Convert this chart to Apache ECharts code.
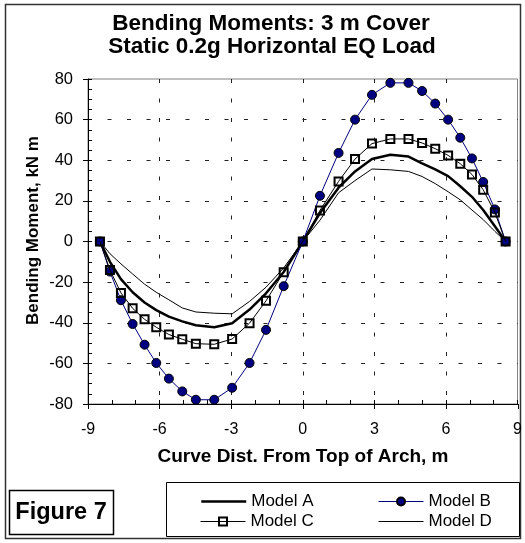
<!DOCTYPE html>
<html>
<head>
<meta charset="utf-8">
<script src="https://cdn.jsdelivr.net/npm/echarts@6/dist/echarts.min.js"></script>
<style>
html,body{margin:0;padding:0;background:#fff;}
#chart{width:525px;height:543px;}
</style>
</head>
<body>
<div id="chart"></div>
<script>
// ---- data ----
const titleLines = ['Bending Moments: 3 m Cover', 'Static 0.2g Horizontal EQ Load'];
const xAxisTitle = 'Curve Dist. From Top of Arch, m';
const yAxisTitle = 'Bending Moment, kN m';
const figureLabel = 'Figure 7';
const xTicks = [-9, -6, -3, 0, 3, 6, 9];
const yTicks = [-80, -60, -40, -20, 0, 20, 40, 60, 80];
const seriesNames = ['Model A', 'Model B', 'Model C', 'Model D'];
const xDist = [-8.5, -8.08, -7.62, -7.13, -6.63, -6.14, -5.61, -5.05, -4.48, -3.71, -2.96, -2.23, -1.54, -0.8, 0,
               0.72, 1.5, 2.19, 2.9, 3.67, 4.43, 5.0, 5.55, 6.09, 6.6, 7.09, 7.56, 8.05, 8.5];
const modelA = [0, -10, -18.5, -25, -30, -33.8, -37, -39.3, -41.2, -42.2, -40.2, -33.5, -25.5, -15, 0,
                14, 26.5, 34.5, 40.6, 42.7, 41.8, 38.5, 35.5, 32.2, 27.2, 22, 15.5, 7.5, 0];
const modelB = [0, -14.8, -28.9, -40.6, -50.8, -59.8, -67.5, -73.8, -77.9, -77.9, -72, -59.8, -43.5, -22, 0,
                22.5, 43.6, 60, 72.2, 78.1, 78.1, 74.1, 67.9, 60, 51.1, 40.9, 29.3, 15.8, 0];
const modelC = [0, -14, -25.3, -32.9, -38.3, -42.2, -45.8, -48.1, -50.3, -50.6, -48, -40.2, -29.2, -15.1, 0,
                15.3, 29.6, 40.6, 48.2, 50.5, 50.5, 48.5, 45.7, 42.4, 38.3, 33, 25.5, 14.3, 0];
const modelD = [0, -6, -11, -16, -21, -25, -28.7, -32.7, -34.7, -35.3, -35.6, -29.5, -22.5, -13, 0,
                10.5, 24, 30, 35.7, 35.3, 34.5, 32, 28.5, 24.5, 20.5, 15.5, 10.8, 5, 0];

// ---- chart ----
const FONT = '"Liberation Sans", Arial, sans-serif';
const pairs = ys => xDist.map((x, i) => [x, ys[i]]);
const gridRect = {left: 88, right: 7, top: 79, bottom: 139};

function mainX() {
  return {
    type: 'value', gridIndex: 0,
    min: xTicks[0], max: xTicks[xTicks.length - 1], interval: xTicks[1] - xTicks[0],
    axisLine: {show: true, onZero: false, lineStyle: {color: '#000', width: 1}},
    axisTick: {show: true, inside: true, length: 4, lineStyle: {color: '#000'}},
    minorTick: {show: true, splitNumber: 3, length: 4, lineStyle: {color: '#000'}},
    axisLabel: {color: '#000', fontSize: 16, fontFamily: FONT, margin: 18},
    splitLine: {show: true, showMinLine: false, showMaxLine: false, lineStyle: {color: '#222', width: 1, type: [4, 15.5]}}
  };
}
function mainY() {
  return {
    type: 'value', gridIndex: 0,
    min: yTicks[0], max: yTicks[yTicks.length - 1], interval: yTicks[1] - yTicks[0],
    axisLine: {show: true, onZero: false, lineStyle: {color: '#000', width: 1}},
    axisTick: {show: true, inside: true, length: 4, lineStyle: {color: '#000'}},
    minorTick: {show: true, splitNumber: 4, length: 4, lineStyle: {color: '#000'}},
    axisLabel: {color: '#000', fontSize: 16.5, fontFamily: FONT, margin: 15},
    splitLine: {show: true, showMinLine: false, showMaxLine: false, lineStyle: {color: '#222', width: 1, type: [4, 15.5]}}
  };
}
function overlayAxis(ticks) {
  return {
    type: 'value', gridIndex: 1,
    min: ticks[0], max: ticks[ticks.length - 1], interval: ticks[1] - ticks[0],
    axisLine: {show: false, onZero: false},
    axisTick: {show: true, inside: false, length: 5, lineStyle: {color: '#000'}},
    axisLabel: {show: false},
    splitLine: {show: false}
  };
}

const legendBase = {
  padding: 0, itemWidth: 45, itemHeight: 10, itemGap: 0,
  textStyle: {color: '#000', fontSize: 17, fontFamily: FONT},
  selectedMode: false
};
const hiddenMarker = {opacity: 0};

const chart = echarts.init(document.getElementById('chart'));
chart.setOption({
  animation: false,
  backgroundColor: '#fff',
  textStyle: {fontFamily: FONT},
  grid: [
    Object.assign({show: true, borderColor: '#808080', borderWidth: 1, backgroundColor: 'rgba(0,0,0,0)'}, gridRect),
    Object.assign({show: false}, gridRect)
  ],
  xAxis: [mainX(), overlayAxis(xTicks)],
  yAxis: [mainY(), overlayAxis(yTicks)],
  legend: [
    Object.assign({}, legendBase, {data: [{name: seriesNames[0], itemStyle: hiddenMarker,
      lineStyle: {color: '#000', width: 2.5}}], left: 200, top: 493}),
    Object.assign({}, legendBase, {data: [{name: seriesNames[1], lineStyle: {color: '#000080', width: 1}}], left: 378, top: 493}),
    Object.assign({}, legendBase, {data: [{name: seriesNames[2], lineStyle: {color: '#000', width: 1}}], left: 200, top: 513}),
    Object.assign({}, legendBase, {data: [{name: seriesNames[3], itemStyle: hiddenMarker,
      lineStyle: {color: '#000', width: 1}}], left: 378, top: 513})
  ],
  series: [
    {name: seriesNames[0], type: 'line', data: pairs(modelA), symbol: 'none', silent: true,
     lineStyle: {color: '#000', width: 2.5}, itemStyle: {color: '#000'}, z: 3},
    {name: seriesNames[1], type: 'line', data: pairs(modelB), symbol: 'circle', symbolSize: 9, showAllSymbol: true, silent: true,
     lineStyle: {color: '#000080', width: 1}, itemStyle: {color: '#000080', borderColor: '#000', borderWidth: 1}, z: 4},
    {name: seriesNames[2], type: 'line', data: pairs(modelC), symbol: 'rect', symbolSize: 8, showAllSymbol: true, silent: true,
     lineStyle: {color: '#000', width: 1}, itemStyle: {color: 'rgba(255,255,255,0)', borderColor: '#000', borderWidth: 2}, z: 5},
    {name: seriesNames[3], type: 'line', data: pairs(modelD), symbol: 'none', silent: true,
     lineStyle: {color: '#000', width: 1}, itemStyle: {color: '#000'}, z: 3}
  ],
  graphic: [
    {type: 'rect', silent: true, z: -10, shape: {x: 5.5, y: 4.5, width: 515, height: 534},
     style: {fill: 'none', stroke: '#333', lineWidth: 1.5}},
    {type: 'text', silent: true, x: 271, y: 23.5,
     style: {text: titleLines[0], font: 'bold 22.5px ' + FONT, fill: '#000', align: 'center', verticalAlign: 'middle'}},
    {type: 'text', silent: true, x: 272, y: 46.5,
     style: {text: titleLines[1], font: 'bold 22.5px ' + FONT, fill: '#000', align: 'center', verticalAlign: 'middle'}},
    {type: 'text', silent: true, x: 33, y: 230.5, rotation: Math.PI / 2,
     style: {text: yAxisTitle, font: 'bold 17px ' + FONT, fill: '#000', align: 'center', verticalAlign: 'middle'}},
    {type: 'text', silent: true, x: 303, y: 457,
     style: {text: xAxisTitle, font: 'bold 19px ' + FONT, fill: '#000', align: 'center', verticalAlign: 'middle'}},
    {type: 'rect', silent: true, shape: {x: 166.5, y: 482.5, width: 353, height: 54},
     style: {fill: 'none', stroke: '#000', lineWidth: 1}},
    {type: 'rect', silent: true, shape: {x: 9.5, y: 490.5, width: 104, height: 44},
     style: {fill: '#fff', stroke: '#000', lineWidth: 1.5}},
    {type: 'text', silent: true, x: 61, y: 512.5,
     style: {text: figureLabel, font: 'bold 23.5px ' + FONT, fill: '#000', align: 'center', verticalAlign: 'middle'}}
  ]
});
</script>
</body>
</html>
